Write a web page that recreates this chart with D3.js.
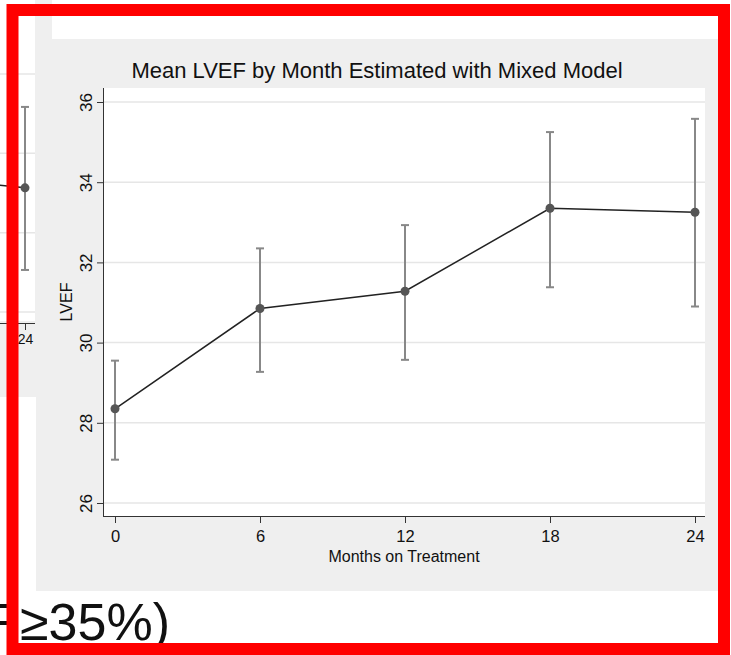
<!DOCTYPE html>
<html>
<head>
<meta charset="utf-8">
<script src="https://d3js.org/d3.v7.min.js"></script>
<style>
body { margin: 0; background: white; }
svg { display: block; font-family: "Liberation Sans", Arial, Helvetica, sans-serif; }
</style>
</head>
<body>
<svg width="731" height="655"></svg>
<script>
// main chart data
var months = [0, 6, 12, 18, 24];
var meanLVEF = [28.35, 30.85, 31.28, 33.35, 33.25];
var lowerCI = [27.08, 29.27, 29.57, 31.38, 30.90];
var upperCI = [29.55, 32.35, 32.93, 35.25, 35.58];
var yTicks = [26, 28, 30, 32, 34, 36];
var xTicks = [0, 6, 12, 18, 24];

// the chart partly visible behind, on the left
var leftMonths = [18, 24];
var leftMean = [33.5, 33.13];
var leftLower = [31.4, 31.06];
var leftUpper = [35.6, 35.17];
var leftGrid = [30, 32, 34, 36];
var leftXTicks = [24];

var svg = d3.select("svg");
var panel = "#efefef", grid = "#e6e6e6", axisCol = "#333";

// ---- left background chart ----
svg.append("rect").attr("x", -10).attr("y", -10).attr("width", 62).attr("height", 407).attr("fill", panel);
svg.append("rect").attr("x", -10).attr("y", -10).attr("width", 45).attr("height", 331).attr("fill", "white");

var lx = d3.scaleLinear().domain([18, 24]).range([-120, 25]);
var ly = d3.scaleLinear().domain([30, 36]).range([312, 74]);

svg.append("g").selectAll("line").data(leftGrid).enter().append("line")
  .attr("x1", -10).attr("x2", 35)
  .attr("y1", d => ly(d)).attr("y2", d => ly(d))
  .attr("stroke", grid).attr("stroke-width", 1.5);

var leftAxis = svg.append("g").attr("transform", "translate(0,323)")
  .call(d3.axisBottom(lx).tickValues(leftXTicks).tickSize(7).tickPadding(4).tickFormat(d3.format("d")));
leftAxis.select(".domain").attr("d", "M-10,0.5H35").attr("stroke", axisCol);
leftAxis.selectAll(".tick line").attr("stroke", axisCol);
leftAxis.selectAll(".tick text").attr("font-size", 14).attr("fill", "#111").attr("font-family", null);

var leftPts = leftMonths.map((m, i) => ({m: m, v: leftMean[i], lo: leftLower[i], hi: leftUpper[i]}));
svg.append("path").datum(leftPts)
  .attr("d", d3.line().x(d => lx(d.m)).y(d => ly(d.v)))
  .attr("fill", "none").attr("stroke", "#222").attr("stroke-width", 1.5);
var lbars = svg.append("g").attr("stroke", "#888").attr("stroke-width", 2);
leftPts.forEach(function(d) {
  lbars.append("line").attr("x1", lx(d.m)).attr("x2", lx(d.m)).attr("y1", ly(d.lo)).attr("y2", ly(d.hi));
  lbars.append("line").attr("x1", lx(d.m) - 4).attr("x2", lx(d.m) + 4).attr("y1", ly(d.lo)).attr("y2", ly(d.lo));
  lbars.append("line").attr("x1", lx(d.m) - 4).attr("x2", lx(d.m) + 4).attr("y1", ly(d.hi)).attr("y2", ly(d.hi));
});
svg.append("g").selectAll("circle").data(leftPts).enter().append("circle")
  .attr("cx", d => lx(d.m)).attr("cy", d => ly(d.v)).attr("r", 4.5).attr("fill", "#555");

// ---- main chart panel ----
svg.append("rect").attr("x", 36).attr("y", 39).attr("width", 682).attr("height", 552).attr("fill", panel);
svg.append("rect").attr("x", 103).attr("y", 88).attr("width", 602).attr("height", 428).attr("fill", "white");

var x = d3.scaleLinear().domain([0, 24]).range([115, 695]);
var y = d3.scaleLinear().domain([26, 36]).range([503, 102]);

svg.append("g").selectAll("line").data(yTicks).enter().append("line")
  .attr("x1", 103).attr("x2", 705)
  .attr("y1", d => y(d)).attr("y2", d => y(d))
  .attr("stroke", grid).attr("stroke-width", 1.5);

var yAxis = svg.append("g").attr("transform", "translate(103,0)")
  .call(d3.axisLeft(y).tickValues(yTicks).tickSize(6).tickFormat(d3.format("d")));
yAxis.select(".domain").attr("d", "M0.5,88V516").attr("stroke", axisCol);
yAxis.selectAll(".tick line").attr("stroke", axisCol);
yAxis.selectAll(".tick text")
  .attr("x", null).attr("dy", null)
  .attr("transform", "translate(-11,0) rotate(-90)")
  .attr("text-anchor", "middle")
  .attr("font-size", 17).attr("fill", "#111").attr("font-family", null);

var xAxis = svg.append("g").attr("transform", "translate(0,516)")
  .call(d3.axisBottom(x).tickValues(xTicks).tickSize(7).tickPadding(7));
xAxis.select(".domain").attr("d", "M103,0.5H705").attr("stroke", axisCol);
xAxis.selectAll(".tick line").attr("stroke", axisCol);
xAxis.selectAll(".tick text").attr("font-size", 16.5).attr("fill", "#111").attr("font-family", null);

svg.append("text")
  .attr("x", 377).attr("y", 78)
  .attr("text-anchor", "middle").attr("font-size", 22).attr("fill", "#111")
  .text("Mean LVEF by Month Estimated with Mixed Model");

svg.append("text")
  .attr("x", 404).attr("y", 562)
  .attr("text-anchor", "middle").attr("font-size", 16).attr("fill", "#111")
  .text("Months on Treatment");

svg.append("text")
  .attr("transform", "translate(72,302) rotate(-90)")
  .attr("text-anchor", "middle").attr("font-size", 16).attr("fill", "#111")
  .text("LVEF");

var pts = months.map((m, i) => ({m: m, v: meanLVEF[i], lo: lowerCI[i], hi: upperCI[i]}));

var bars = svg.append("g").attr("stroke", "#888").attr("stroke-width", 2);
pts.forEach(function(d) {
  bars.append("line").attr("x1", x(d.m)).attr("x2", x(d.m)).attr("y1", y(d.lo)).attr("y2", y(d.hi));
  bars.append("line").attr("x1", x(d.m) - 4).attr("x2", x(d.m) + 4).attr("y1", y(d.lo)).attr("y2", y(d.lo));
  bars.append("line").attr("x1", x(d.m) - 4).attr("x2", x(d.m) + 4).attr("y1", y(d.hi)).attr("y2", y(d.hi));
});

svg.append("path").datum(pts)
  .attr("d", d3.line().x(d => x(d.m)).y(d => y(d.v)))
  .attr("fill", "none").attr("stroke", "#222").attr("stroke-width", 1.5);

svg.append("g").selectAll("circle").data(pts).enter().append("circle")
  .attr("cx", d => x(d.m)).attr("cy", d => y(d.v)).attr("r", 4.5).attr("fill", "#555");

// slide text under the frame
svg.append("text")
  .attr("x", 170).attr("y", 640)
  .attr("text-anchor", "end").attr("font-size", 52).attr("fill", "#111")
  .text("LVEF≥35%)");

// red highlight frame
svg.append("rect")
  .attr("x", 12.5).attr("y", 10).attr("width", 711.5).attr("height", 639)
  .attr("fill", "none").attr("stroke", "#ff0000").attr("stroke-width", 12);
</script>
</body>
</html>
